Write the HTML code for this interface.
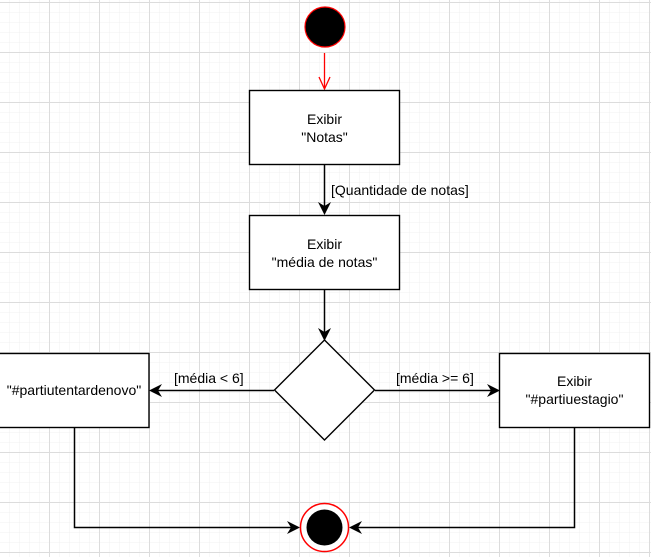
<!DOCTYPE html>
<html><head><meta charset="utf-8"><style>
body{margin:0;background:#fff}
svg{display:block}
text{font-family:"Liberation Sans",sans-serif;font-size:14px;fill:#000}
</style></head><body>
<svg width="651" height="557" viewBox="0 0 651 557" xmlns="http://www.w3.org/2000/svg">
<defs>
<pattern id="g1" width="10" height="10" patternUnits="userSpaceOnUse" x="0" y="3">
<path d="M10 0V10M0 10H10" stroke="#f0f0f0" stroke-width="1" fill="none"/></pattern>
<pattern id="g2" width="50" height="50" patternUnits="userSpaceOnUse" x="0" y="3">
<path d="M49.5 0V50M0 49.5H50" stroke="#dcdcdc" stroke-width="1" fill="none"/></pattern>
</defs>
<rect width="651" height="557" fill="url(#g1)"/>
<rect width="651" height="557" fill="url(#g2)"/>
<circle cx="325" cy="27" r="20" fill="#000" stroke="#f00" stroke-width="1.2"/>
<line x1="324.5" y1="53" x2="324.5" y2="88" stroke="#f00" stroke-width="1.3"/>
<path d="M319 77L324.5 89L330 77" fill="none" stroke="#f00" stroke-width="1.3"/>
<rect x="249.5" y="90.5" width="150" height="74" fill="#fff" stroke="#000" stroke-width="1.4"/>
<text x="324.5" y="124" text-anchor="middle">Exibir</text>
<text x="324.5" y="142" text-anchor="middle">"Notas"</text>
<line x1="324.5" y1="165" x2="324.5" y2="208" stroke="#000" stroke-width="1.5"/>
<path d="M318 202L324.5 215L331 202L324.5 206Z" fill="#000"/>
<text x="331" y="195">[Quantidade de notas]</text>
<rect x="249.5" y="215.5" width="150" height="74" fill="#fff" stroke="#000" stroke-width="1.4"/>
<text x="324.5" y="249" text-anchor="middle">Exibir</text>
<text x="324.5" y="267" text-anchor="middle">"média de notas"</text>
<line x1="324.5" y1="290" x2="324.5" y2="334" stroke="#000" stroke-width="1.5"/>
<path d="M318 328L324.5 341L331 328L324.5 332Z" fill="#000"/>
<path d="M324.5 340L374.5 390L324.5 440L274.5 390Z" fill="#fff" stroke="#000" stroke-width="1.4"/>
<line x1="274" y1="390.5" x2="156" y2="390.5" stroke="#000" stroke-width="1.5"/>
<path d="M162 384L149 390.5L162 397L158 390.5Z" fill="#000"/>
<text x="174" y="383">[média &lt; 6]</text>
<line x1="375" y1="390.5" x2="493" y2="390.5" stroke="#000" stroke-width="1.5"/>
<path d="M487 384L500 390.5L487 397L491 390.5Z" fill="#000"/>
<text x="396" y="383">[média &gt;= 6]</text>
<rect x="-1" y="353.5" width="150" height="74" fill="#fff" stroke="#000" stroke-width="1.4"/>
<text x="74" y="395" text-anchor="middle">"#partiutentardenovo"</text>
<rect x="499.5" y="353.5" width="150" height="74" fill="#fff" stroke="#000" stroke-width="1.4"/>
<text x="574.5" y="386" text-anchor="middle">Exibir</text>
<text x="574.5" y="404" text-anchor="middle">"#partiuestagio"</text>
<path d="M74.5 428V527.5H294" fill="none" stroke="#000" stroke-width="1.5"/>
<path d="M287 521L300 527.5L287 534L291 527.5Z" fill="#000"/>
<path d="M574.5 428V527.5H356" fill="none" stroke="#000" stroke-width="1.5"/>
<path d="M362 521L349 527.5L362 534L358 527.5Z" fill="#000"/>
<circle cx="324.5" cy="527.5" r="24" fill="#fff" stroke="#f00" stroke-width="1.5"/>
<circle cx="324.5" cy="527.5" r="18" fill="#000"/>
</svg>
</body></html>
